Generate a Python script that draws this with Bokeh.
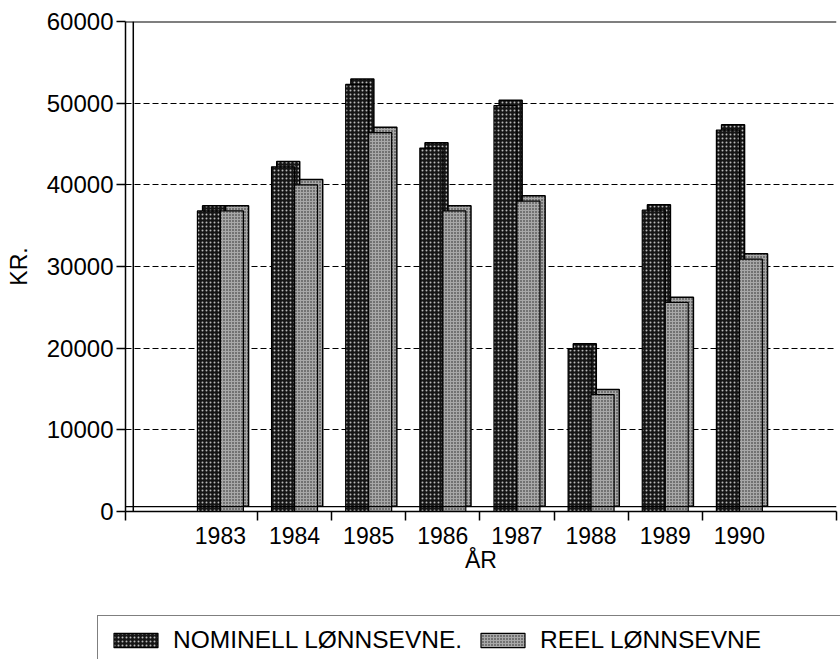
from bokeh.plotting import figure
from bokeh.layouts import column
from bokeh.models import FixedTicker, Legend, LegendItem, Span, Range1d, ColumnDataSource
from bokeh.embed import file_html
from bokeh.resources import INLINE

years = ["1983", "1984", "1985", "1986", "1987", "1988", "1989", "1990"]
nominell = [36800, 42200, 52300, 44500, 49700, 19900, 36900, 46700]
reel = [36800, 40000, 46400, 36800, 38000, 14300, 25600, 30900]
y_ticks = [0, 10000, 20000, 30000, 40000, 50000, 60000]
series_labels = ["NOMINELL LØNNSEVNE.", "REEL LØNNSEVNE"]

FONT = "Liberation Sans"
BW = 0.31      # bar width (category units)
DX = 0.07      # 3D depth offset x
DY = 650       # 3D depth offset y
X0, X1 = -1.28, 8.31

NOM_STYLE = dict(fill_color="#151515", hatch_pattern="dot", hatch_color="white",
                 hatch_scale=4, hatch_alpha=0.7)
REEL_STYLE = dict(fill_color="#a8a8a8", hatch_pattern="dot", hatch_color="black",
                  hatch_scale=3, hatch_alpha=0.8)

xc = list(range(len(years)))
x_nom = [i - 0.155 for i in xc]
x_reel = [i + 0.155 for i in xc]

p = figure(width=840, height=611, output_backend="svg", toolbar_location=None,
           x_range=Range1d(X0, X1), y_range=Range1d(0, 60000),
           min_border_left=125, min_border_right=4, min_border_top=21,
           min_border_bottom=100)
p.frame_align = False

p.background_fill_color = "white"
p.border_fill_color = "white"
p.outline_line_color = None

# grid
p.xgrid.grid_line_color = None
p.ygrid.ticker = FixedTicker(ticks=[10000, 20000, 30000, 40000, 50000])
p.ygrid.grid_line_color = "black"
p.ygrid.grid_line_dash = "6 3"
p.ygrid.grid_line_width = 1.2

# 3D wall / floor / top lines
p.add_layout(Span(location=X0 + DX * 1.5, dimension="height", line_color="black", line_width=1.5))
p.add_layout(Span(location=DY * 0.9, dimension="width", line_color="black", line_width=1.2))
p.add_layout(Span(location=60000, dimension="width", line_color="black", line_width=1.8))

def bars(fig, xs, vals, style):
    src = ColumnDataSource(dict(
        x=xs, top=vals,
        bx=[x + DX for x in xs], btop=[v + DY for v in vals], bbot=[DY] * len(vals)))
    # depth (side + top face)
    fig.vbar(x="bx", top="btop", bottom="bbot", width=BW, source=src,
             line_color="black", line_width=1.5, **style)
    # front face
    return fig.vbar(x="x", top="top", bottom=0, width=BW, source=src,
                    line_color="black", line_width=1.2, **style)

bars(p, x_nom, nominell, NOM_STYLE)
bars(p, x_reel, reel, REEL_STYLE)

# y axis
p.yaxis.ticker = FixedTicker(ticks=y_ticks)
p.yaxis.minor_tick_line_color = None
p.yaxis.major_tick_in = 0
p.yaxis.major_tick_out = 9
p.yaxis.major_tick_line_width = 1.5
p.yaxis.axis_line_width = 1.5
p.yaxis.major_label_text_font = FONT
p.yaxis.major_label_text_font_size = "24px"
p.yaxis.major_label_text_color = "black"
p.yaxis.major_label_standoff = 3
p.yaxis.axis_label = "KR."
p.yaxis.axis_label_text_font = FONT
p.yaxis.axis_label_text_font_size = "23px"
p.yaxis.axis_label_text_font_style = "normal"
p.yaxis.axis_label_text_color = "black"
p.yaxis.axis_label_standoff = 12

# x axis: labels at centres, tick marks at boundaries (minor ticks)
boundaries = [X0] + [i + 0.5 for i in range(len(years) - 1)] + [X1]
p.xaxis.ticker = FixedTicker(ticks=xc, minor_ticks=boundaries)
p.xaxis.major_label_overrides = {i: y for i, y in zip(xc, years)}
p.xaxis.major_tick_line_color = None
p.xaxis.minor_tick_line_color = "black"
p.xaxis.minor_tick_line_width = 1.5
p.xaxis.minor_tick_in = 0
p.xaxis.minor_tick_out = 9
p.xaxis.axis_line_width = 1.5
p.xaxis.major_label_text_font = FONT
p.xaxis.major_label_text_font_size = "23px"
p.xaxis.major_label_text_color = "black"
p.xaxis.major_label_standoff = 6
p.xaxis.axis_label = "ÅR"
p.xaxis.axis_label_text_font = FONT
p.xaxis.axis_label_text_font_size = "23px"
p.xaxis.axis_label_text_font_style = "normal"
p.xaxis.axis_label_text_color = "black"
p.xaxis.axis_label_standoff = 0

# legend strip below the chart (its bar renderers are hidden; only the legend swatches show)
lf = figure(width=840, height=48, output_backend="svg", toolbar_location=None,
            x_range=Range1d(X0, X1), y_range=Range1d(0, 60000),
            min_border_left=0, min_border_right=0, min_border_top=0, min_border_bottom=0)
lf.frame_align = False
lf.axis.visible = False
lf.grid.visible = False
lf.outline_line_color = None
lf.background_fill_color = "white"
lf.border_fill_color = "white"
ln = lf.vbar(x=x_nom, top=nominell, width=BW, line_color="black", line_width=1.2, **NOM_STYLE)
lr = lf.vbar(x=x_reel, top=reel, width=BW, line_color="black", line_width=1.2, **REEL_STYLE)
ln.visible = False
lr.visible = False

legend = Legend(items=[LegendItem(label=series_labels[0], renderers=[ln]),
                       LegendItem(label=series_labels[1], renderers=[lr])],
                orientation="horizontal", location=(97, -6))
legend.click_policy = "none"
legend.inactive_fill_alpha = 0
legend.label_text_font = FONT
legend.label_text_font_size = "24.5px"
legend.label_text_color = "black"
legend.label_width = 298
legend.label_standoff = 10
legend.glyph_width = 55
legend.glyph_height = 18
legend.spacing = 4
legend.padding = 10
legend.margin = 0
legend.border_line_color = "black"
legend.border_line_width = 1.5
legend.background_fill_alpha = 0
lf.add_layout(legend)

layout = column(p, lf, spacing=0)
open("out.html", "w").write(file_html(layout, INLINE))
